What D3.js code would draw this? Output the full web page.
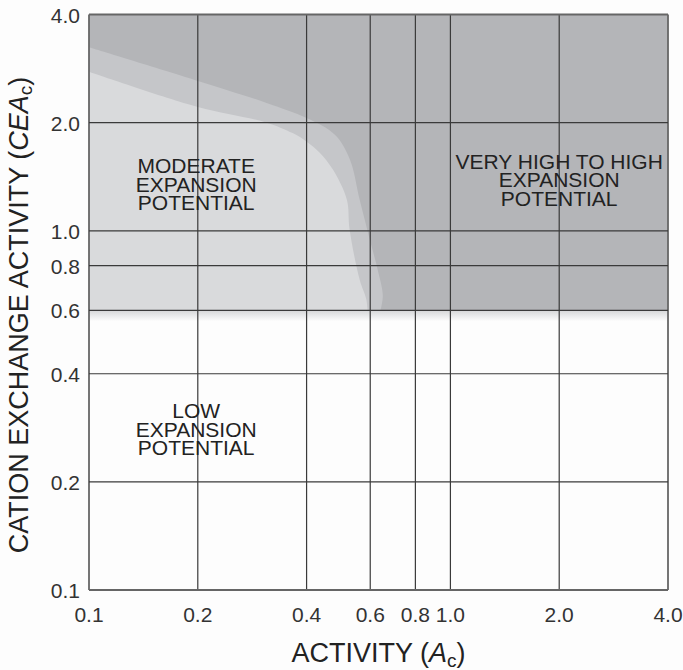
<!DOCTYPE html>
<html>
<head>
<meta charset="utf-8">
<script src="https://cdn.jsdelivr.net/npm/d3@7"></script>
<style>
    body { margin: 0; background: #fdfdfd; }
    svg { display: block; font-family: "Liberation Sans", Arial, sans-serif; }
</style>
</head>
<body>
<svg width="683" height="670"></svg>
<script>
// ticks on both log axes
var x_ticks = [0.1, 0.2, 0.4, 0.6, 0.8, 1.0, 2.0, 4.0];
var y_ticks = [0.1, 0.2, 0.4, 0.6, 0.8, 1.0, 2.0, 4.0];

// shaded zones stop at this CEAc value
var shade_floor = 0.6;

// upper edge of the moderate (light) zone
var moderate_x = [0.1, 0.2, 0.31, 0.366, 0.4, 0.435, 0.473, 0.517, 0.526, 0.561, 0.585, 0.59];
var moderate_y = [2.77, 2.21, 2.0, 1.87, 1.77, 1.65, 1.48, 1.22, 1.01, 0.73, 0.645, 0.6];

// outer edge of the transition band (mid grey)
var band_x = [0.1, 0.196, 0.31, 0.4, 0.479, 0.527, 0.561, 0.598, 0.629, 0.65, 0.64];
var band_y = [3.24, 2.63, 2.27, 2.06, 1.85, 1.58, 1.22, 0.947, 0.78, 0.66, 0.6];

// y = value of the middle line's baseline
var zone_labels = [
    { lines: ["MODERATE", "EXPANSION", "POTENTIAL"], x: 0.198, y: 1.285 },
    { lines: ["VERY HIGH TO HIGH", "EXPANSION", "POTENTIAL"], x: 2.0, y: 1.32 },
    { lines: ["LOW", "EXPANSION", "POTENTIAL"], x: 0.198, y: 0.267 }
];

function fmt(v) { return v.toFixed(1); }

var svg = d3.select("svg");

var x_scale = d3.scaleLog().domain([0.1, 4.0]).range([89, 668]);
var y_scale = d3.scaleLog().domain([0.1, 4.0]).range([590, 14.5]);

var defs = svg.append("defs");
var fade = defs.append("linearGradient")
    .attr("id", "fade")
    .attr("x1", 0).attr("y1", 0).attr("x2", 0).attr("y2", 1);
fade.append("stop").attr("offset", "0%").attr("stop-color", "#d6d7d9");
fade.append("stop").attr("offset", "100%").attr("stop-color", "#fdfdfd");

var g = svg.append("g");

// dark zone: everything above the floor
g.append("rect")
    .attr("x", x_scale(0.1))
    .attr("y", y_scale(4.0))
    .attr("width", x_scale(4.0) - x_scale(0.1))
    .attr("height", y_scale(shade_floor) - y_scale(4.0))
    .attr("fill", "#b4b5b8");

var edge = d3.line()
    .x(function (d) { return x_scale(d[0]); })
    .y(function (d) { return y_scale(d[1]); })
    .curve(d3.curveCatmullRom.alpha(0.5));

// closed zone: left border, curved edge, back along the floor
function zone_path(xs, ys) {
    var pts = xs.map(function (v, i) { return [v, ys[i]]; });
    return "M" + x_scale(0.1) + "," + y_scale(shade_floor) +
        "L" + edge(pts).slice(1) + "Z";
}

g.append("path")
    .attr("d", zone_path(band_x, band_y))
    .attr("fill", "#c5c6c9");

g.append("path")
    .attr("d", zone_path(moderate_x, moderate_y))
    .attr("fill", "#d9dadc");

// soft fade below the shaded zones
g.append("rect")
    .attr("x", x_scale(0.1))
    .attr("y", y_scale(shade_floor))
    .attr("width", x_scale(4.0) - x_scale(0.1))
    .attr("height", y_scale(0.56) - y_scale(shade_floor))
    .attr("fill", "url(#fade)");

// grid
function is_edge(i, arr) { return i == 0 || i == arr.length - 1; }

g.selectAll(".vgrid")
    .data(x_ticks)
    .enter().append("line")
    .attr("x1", function (d) { return x_scale(d); })
    .attr("x2", function (d) { return x_scale(d); })
    .attr("y1", y_scale(4.0))
    .attr("y2", y_scale(0.1))
    .attr("stroke", function (d, i) { return is_edge(i, x_ticks) ? "#666" : "#3a3a3a"; })
    .attr("stroke-width", function (d, i) { return is_edge(i, x_ticks) ? 1.8 : 1.2; });

g.selectAll(".hgrid")
    .data(y_ticks)
    .enter().append("line")
    .attr("y1", function (d) { return y_scale(d); })
    .attr("y2", function (d) { return y_scale(d); })
    .attr("x1", x_scale(0.1))
    .attr("x2", x_scale(4.0))
    .attr("stroke", function (d, i) { return is_edge(i, y_ticks) ? "#666" : "#3a3a3a"; })
    .attr("stroke-width", function (d, i) { return is_edge(i, y_ticks) ? 1.8 : 1.2; });

// tick labels
g.selectAll(".xlab")
    .data(x_ticks)
    .enter().append("text")
    .attr("x", function (d) { return x_scale(d); })
    .attr("y", 622)
    .attr("text-anchor", "middle")
    .attr("font-size", 21)
    .attr("fill", "#333")
    .text(fmt);

g.selectAll(".ylab")
    .data(y_ticks)
    .enter().append("text")
    .attr("x", 80)
    .attr("y", function (d) { return y_scale(d) + 8; })
    .attr("text-anchor", "end")
    .attr("font-size", 21)
    .attr("fill", "#333")
    .text(fmt);

// zone labels
zone_labels.forEach(function (z) {
    var t = g.append("text")
        .attr("text-anchor", "middle")
        .attr("font-size", 21)
        .attr("fill", "#222");
    z.lines.forEach(function (s, i) {
        t.append("tspan")
            .attr("x", x_scale(z.x))
            .attr("y", y_scale(z.y) + (i - 1) * 18.5)
            .text(s);
    });
});

// axis titles
var xt = svg.append("text")
    .attr("x", (x_scale(0.1) + x_scale(4.0)) / 2)
    .attr("y", 662)
    .attr("text-anchor", "middle")
    .attr("font-size", 27)
    .attr("fill", "#222");
xt.append("tspan").text("ACTIVITY (");
xt.append("tspan").attr("font-style", "italic").text("A");
xt.append("tspan").attr("font-size", 19).attr("dy", 5).text("c");
xt.append("tspan").attr("dy", -5).text(")");

var yt = svg.append("text")
    .attr("transform", "translate(28,315) rotate(-90)")
    .attr("text-anchor", "middle")
    .attr("font-size", 27)
    .attr("fill", "#222");
yt.append("tspan").text("CATION EXCHANGE ACTIVITY (");
yt.append("tspan").attr("font-style", "italic").text("CEA");
yt.append("tspan").attr("font-size", 19).attr("dy", 4).text("c");
yt.append("tspan").attr("dy", -4).text(")");
</script>
</body>
</html>
